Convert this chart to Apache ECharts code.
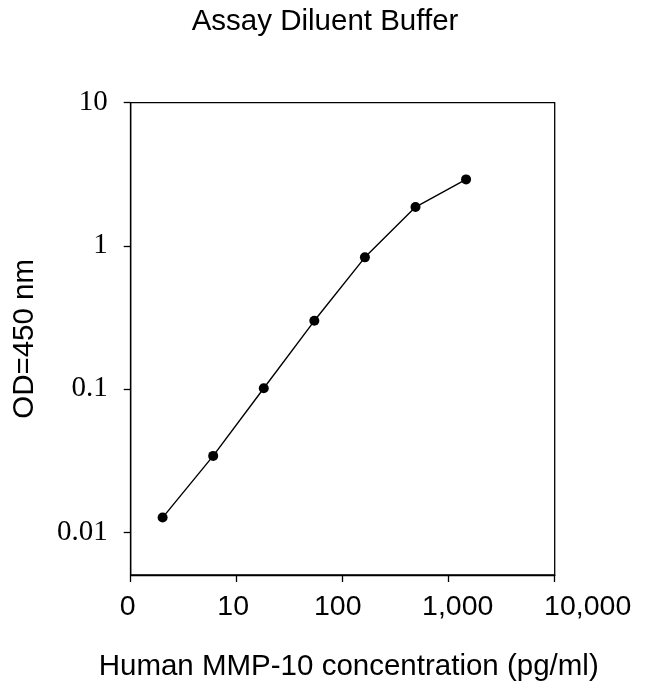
<!DOCTYPE html>
<html>
<head>
<meta charset="utf-8">
<script src="https://cdn.jsdelivr.net/npm/echarts@6/dist/echarts.min.js"></script>
<style>
html,body{margin:0;padding:0;background:#fff;}
#chart{width:650px;height:693px;}
</style>
</head>
<body>
<div id="chart"></div>
<script>
// Data
var concentration = [2, 6, 18, 54, 162, 486, 1458];
var od450 = [0.0126, 0.034, 0.101, 0.299, 0.83, 1.866, 2.91];
var xTickValues = [1, 10, 100, 1000, 10000];
var xTickLabels = ['0', '10', '100', '1,000', '10,000'];
var yTickValues = [0.01, 0.1, 1, 10];
var yTickLabels = ['0.01', '0.1', '1', '10'];

var points = concentration.map(function (c, i) { return [c, od450[i]]; });

var sans = 'Liberation Sans, Arial, Helvetica, sans-serif';
var serif = 'Liberation Serif, Times New Roman, serif';

// per-label horizontal nudges (the reference labels are not exactly centred on their ticks)
var xLabelRich = {
  l0: {padding: [0, 6, 0, 0]},
  l1: {padding: [0, 7, 0, 0]},
  l2: {padding: [0, 10, 0, 0]},
  l3: {padding: [0, 0, 0, 18]},
  l4: {padding: [0, 0, 0, 66]}
};
Object.keys(xLabelRich).forEach(function (k) {
  xLabelRich[k].fontFamily = sans;
  xLabelRich[k].fontSize = 28.5;
  xLabelRich[k].color = '#000';
});

var chart = echarts.init(document.getElementById('chart'), null, {renderer: 'canvas'});
chart.setOption({
  backgroundColor: '#fff',
  animation: false,
  title: {
    text: 'Assay Diluent Buffer',
    left: 'center',
    top: 7,
    padding: 0,
    textStyle: {fontFamily: sans, fontSize: 29.5, fontWeight: 'normal', color: '#000'}
  },
  grid: {
    left: 130.7, right: 95.3, top: 102.7, bottom: 118,
    show: true, borderColor: '#000', borderWidth: 1.3, backgroundColor: 'transparent'
  },
  xAxis: {
    type: 'log', logBase: 10, min: 1, max: 10000,
    name: 'Human MMP-10 concentration (pg/ml)',
    nameLocation: 'middle', nameGap: 77,
    nameTextStyle: {fontFamily: sans, fontSize: 29.5, color: '#000', padding: [0, 0, 0, 12]},
    axisLine: {show: true, lineStyle: {color: '#000', width: 1.3}},
    axisTick: {show: true, length: 7, lineStyle: {color: '#000', width: 1.3}, customValues: xTickValues},
    axisLabel: {
      customValues: xTickValues, margin: 18,
      fontFamily: sans, fontSize: 28.5, color: '#000',
      rich: xLabelRich,
      formatter: function (v) {
        for (var i = 0; i < xTickValues.length; i++) {
          if (Math.abs(v - xTickValues[i]) / xTickValues[i] < 1e-6) return '{l' + i + '|' + xTickLabels[i] + '}';
        }
        return '';
      }
    },
    splitLine: {show: false}, minorTick: {show: false}
  },
  yAxis: {
    type: 'log', logBase: 10, min: 0.005, max: 10,
    name: 'OD=450 nm',
    nameLocation: 'middle', nameGap: 91, nameRotate: 90,
    nameTextStyle: {fontFamily: sans, fontSize: 29.5, color: '#000'},
    axisLine: {show: true, lineStyle: {color: '#000', width: 1.3}},
    axisTick: {show: true, length: 7, lineStyle: {color: '#000', width: 1.3}, customValues: yTickValues},
    axisLabel: {
      customValues: yTickValues, margin: 23,
      fontFamily: serif, fontSize: 29, color: '#000',
      formatter: function (v) {
        for (var i = 0; i < yTickValues.length; i++) {
          if (Math.abs(v - yTickValues[i]) / yTickValues[i] < 1e-6) return yTickLabels[i];
        }
        return '';
      }
    },
    splitLine: {show: false}, minorTick: {show: false}
  },
  series: [{
    type: 'line',
    data: points,
    symbol: 'circle',
    symbolSize: 10,
    itemStyle: {color: '#000'},
    lineStyle: {color: '#000', width: 1.4},
    smooth: false
  }]
});
</script>
</body>
</html>
